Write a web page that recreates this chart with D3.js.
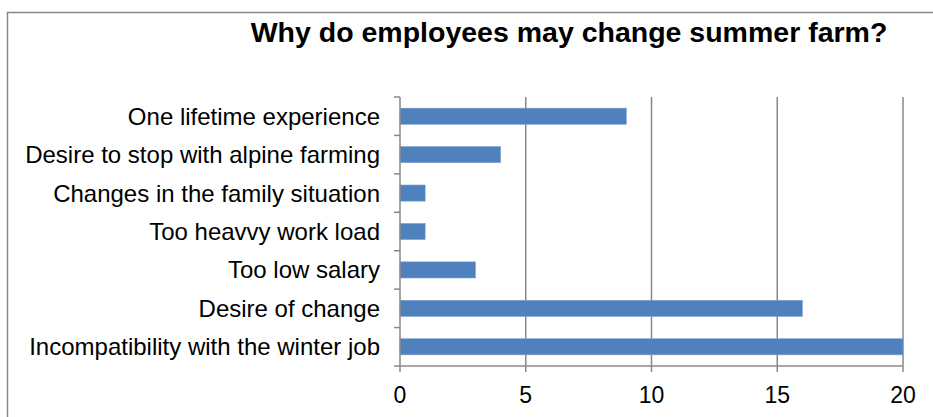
<!DOCTYPE html>
<html>
<head>
  <meta charset="utf-8">
  <script src="https://cdn.jsdelivr.net/npm/d3@7"></script>
  <style>
    body {margin:0; background:#fff;}
    text {font-family: "Liberation Sans", Arial, sans-serif; fill:#000;}
  </style>
</head>
<body>
<script>
const categories = [
  "One lifetime experience",
  "Desire to stop with alpine farming",
  "Changes in the family situation",
  "Too heavvy work load",
  "Too low salary",
  "Desire of change",
  "Incompatibility with the winter job"
];
const values = [9, 4, 1, 1, 3, 16, 20];
const xTicks = [0, 5, 10, 15, 20];

const width = 933, height = 417;
const plotLeft = 400, plotRight = 903, plotTop = 97, plotBottom = 366;

const svg = d3.select("body").append("svg")
  .attr("width", width).attr("height", height);

// chart frame (runs off the right and bottom edges)
svg.append("rect")
  .attr("x", 7.5).attr("y", 12.5)
  .attr("width", 940).attr("height", 420)
  .attr("fill", "none").attr("stroke", "#888").attr("stroke-width", 1.5);

svg.append("text")
  .attr("x", 569).attr("y", 42)
  .attr("text-anchor", "middle")
  .style("font-size", "28.5px").style("font-weight", "bold")
  .text("Why do employees may change summer farm?");

const x = d3.scaleLinear().domain([0, 20]).range([plotLeft, plotRight]);
const y = d3.scaleBand().domain(categories).range([plotTop, plotBottom]).paddingInner(0.58).paddingOuter(0.29);

// gridlines
svg.append("g").selectAll("line")
  .data(xTicks.slice(1))
  .join("line")
  .attr("x1", d => x(d)).attr("x2", d => x(d))
  .attr("y1", plotTop).attr("y2", plotBottom)
  .attr("stroke", "#888").attr("stroke-width", 1.5);

// bars
svg.append("g").selectAll("rect")
  .data(values)
  .join("rect")
  .attr("x", x(0))
  .attr("y", (d, i) => y(categories[i]))
  .attr("width", d => x(d) - x(0))
  .attr("height", y.bandwidth())
  .attr("fill", "#4f81bd")
  .attr("stroke", "#7ea3d3").attr("stroke-width", 0.6);

// y axis: line + ticks at category boundaries
const step = (plotBottom - plotTop) / categories.length;
const yg = svg.append("g");
yg.append("line")
  .attr("x1", plotLeft).attr("x2", plotLeft).attr("y1", plotTop).attr("y2", plotBottom)
  .attr("stroke", "#888").attr("stroke-width", 1.5);
yg.selectAll("line.t")
  .data(d3.range(categories.length + 1))
  .join("line").attr("class", "t")
  .attr("x1", plotLeft - 6).attr("x2", plotLeft)
  .attr("y1", i => plotTop + i * step).attr("y2", i => plotTop + i * step)
  .attr("stroke", "#888").attr("stroke-width", 1.5);
yg.selectAll("text")
  .data(categories)
  .join("text")
  .attr("x", 380)
  .attr("y", d => y(d) + y.bandwidth() / 2 + 8.5)
  .attr("text-anchor", "end")
  .style("font-size", "24px")
  .text(d => d);

// x axis
const xg = svg.append("g");
xg.append("line")
  .attr("x1", plotLeft).attr("x2", plotRight).attr("y1", plotBottom).attr("y2", plotBottom)
  .attr("stroke", "#888").attr("stroke-width", 1.5);
xg.selectAll("line.t")
  .data(xTicks)
  .join("line").attr("class", "t")
  .attr("x1", d => x(d)).attr("x2", d => x(d))
  .attr("y1", plotBottom).attr("y2", plotBottom + 6)
  .attr("stroke", "#888").attr("stroke-width", 1.5);
xg.selectAll("text")
  .data(xTicks)
  .join("text")
  .attr("x", d => x(d))
  .attr("y", 403)
  .attr("text-anchor", "middle")
  .style("font-size", "23px")
  .text(d => d);
</script>
</body>
</html>
